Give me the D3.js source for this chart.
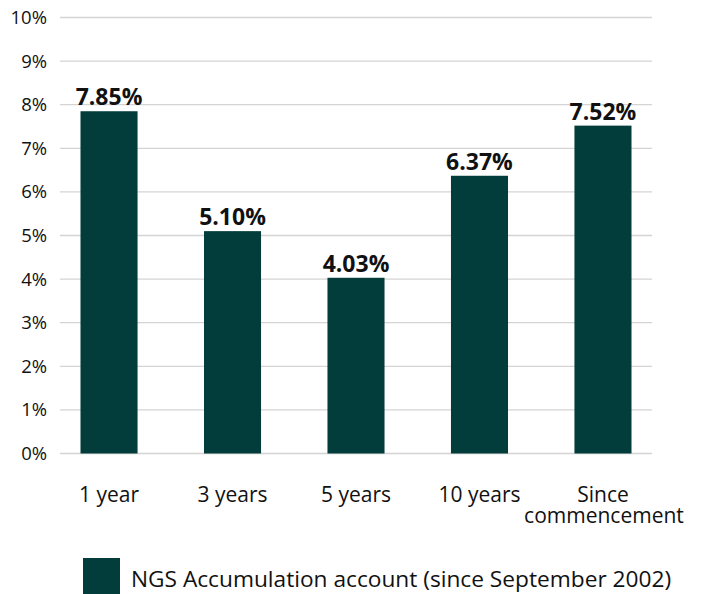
<!DOCTYPE html>
<html>
<head>
<meta charset="utf-8">
<script src="https://cdn.jsdelivr.net/npm/d3@7"></script>
<style>
  body { margin: 0; background: #fff; }
  text { font-family: "Open Sans", Lato, sans-serif; fill: #111; }
</style>
</head>
<body>
<div id="chart"></div>
<script>
// data
var categories = ["1 year", "3 years", "5 years", "10 years", "Since commencement"];
var values = [7.85, 5.10, 4.03, 6.37, 7.52];
var yTicks = [0, 1, 2, 3, 4, 5, 6, 7, 8, 9, 10];
var seriesName = "NGS Accumulation account (since September 2002)";

var barColor = "#023c3b";
var width = 707, height = 594;

var svg = d3.select("#chart").append("svg")
    .attr("width", width)
    .attr("height", height);

var x = d3.scaleBand()
    .domain(categories)
    .range([60, 652])
    .paddingInner(0.538)
    .paddingOuter(0.166);

var y = d3.scaleLinear()
    .domain([0, 10])
    .range([453.5, 17.5]);

// gridlines
svg.append("g").selectAll("line")
    .data(yTicks)
    .enter().append("line")
    .attr("x1", 60).attr("x2", 652)
    .attr("y1", function (d) { return y(d); })
    .attr("y2", function (d) { return y(d); })
    .attr("stroke", "#d4d4d4")
    .attr("stroke-width", 1.3);

// y labels
svg.append("g").selectAll("text")
    .data(yTicks)
    .enter().append("text")
    .attr("x", 47)
    .attr("y", function (d) { return y(d) + 6.5; })
    .attr("text-anchor", "end")
    .style("font-size", "18.5px")
    .text(function (d) { return d + "%"; });

// bars
svg.append("g").selectAll("rect")
    .data(values)
    .enter().append("rect")
    .attr("x", function (d, i) { return x(categories[i]); })
    .attr("y", function (d) { return y(d); })
    .attr("width", x.bandwidth())
    .attr("height", function (d) { return y(0) - y(d); })
    .attr("fill", barColor);

// value labels
svg.append("g").selectAll("text")
    .data(values)
    .enter().append("text")
    .attr("x", function (d, i) { return x(categories[i]) + x.bandwidth() / 2; })
    .attr("y", function (d) { return y(d) - 6; })
    .attr("text-anchor", "middle")
    .style("font-size", "23px")
    .style("font-weight", "bold")
    .text(function (d) { return d.toFixed(2) + "%"; });

// x labels
categories.forEach(function (c) {
    var cx = x(c) + x.bandwidth() / 2;
    var t = svg.append("text")
        .attr("x", cx)
        .attr("y", 502)
        .attr("text-anchor", "middle")
        .style("font-size", "21px");
    if (c === "Since commencement") {
        t.append("tspan").attr("x", cx).attr("dy", 0).text("Since");
        t.append("tspan").attr("x", cx + 1).attr("dy", 21).text("commencement");
    } else {
        t.text(c);
    }
});

// legend
svg.append("rect")
    .attr("x", 83).attr("y", 558)
    .attr("width", 37).attr("height", 36)
    .attr("fill", barColor);
svg.append("text")
    .attr("x", 131).attr("y", 587)
    .style("font-size", "22.7px")
    .text(seriesName);
</script>
</body>
</html>
